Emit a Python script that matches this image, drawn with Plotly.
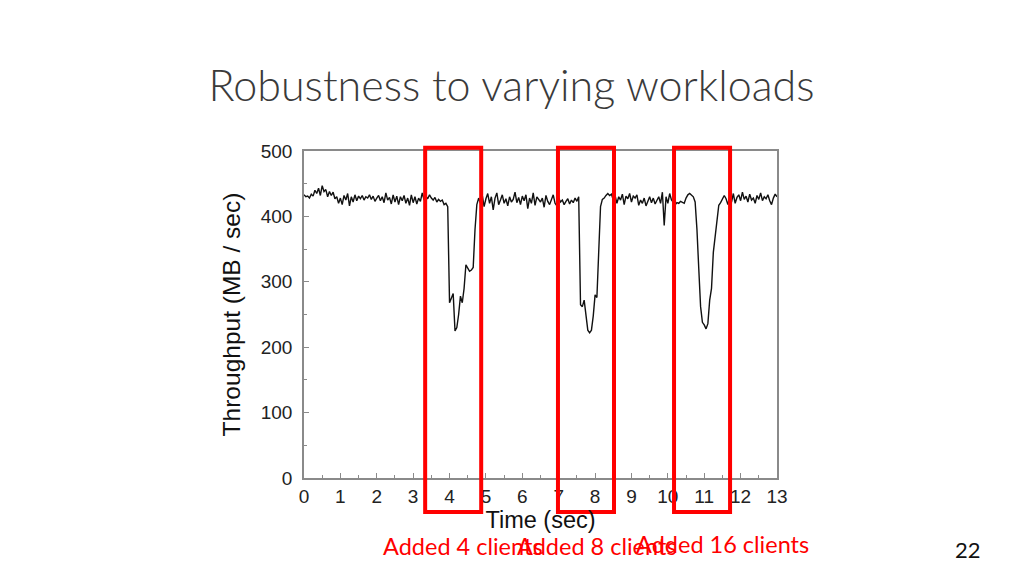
import plotly.graph_objects as go

# ---- data ----
step_sec = 0.05
throughput = [
    # 0.00 - 3.90
    433, 430, 431, 428, 434, 431, 440, 435, 443, 432,
    447, 438, 441, 430, 438, 432, 437, 427, 430, 420,
    428, 418, 432, 425, 435, 416, 430, 422, 433, 424,
    431, 427, 432, 425, 430, 428, 433, 426, 431, 423,
    428, 432, 424, 430, 421, 436, 425, 429, 419, 433,
    422, 431, 418, 430, 424, 432, 420, 428, 417, 433,
    421, 430, 419, 428, 423, 436, 425, 431, 427, 433,
    428, 425, 429, 422, 426, 423, 425, 418, 420,
    # 3.95 - 4.80 (dip 1)
    415, 268, 276, 282, 225, 230, 250, 278, 268, 290,
    326, 320, 316, 318, 322, 380, 418, 428,
    # 4.85 - 7.55
    420, 432, 415, 427, 435, 420, 430, 410, 428, 436,
    418, 425, 433, 420, 427, 416, 430, 422, 426, 437,
    421, 429, 418, 431, 424, 433, 412, 428, 420, 436,
    417, 430, 425, 422, 428, 414, 432, 423, 418, 427,
    433, 420, 416, 428, 422, 425, 418, 423, 427, 419,
    425, 421, 428, 423, 430,
    # 7.60 - 8.50 (dip 2)
    265, 262, 272, 250, 226, 222, 226, 248, 280, 276,
    350, 415, 426, 428, 432, 435, 432, 434, 425,
    # 8.55 - 10.50
    432, 420, 430, 425, 434, 418, 431, 427, 435, 422,
    431, 428, 433, 417, 425, 420, 428, 416, 424, 430,
    421, 428, 419, 426, 430, 420, 437, 386, 430, 420,
    435, 425, 422, 418, 421, 420, 423, 422, 420, 428,
    # 10.55 - 10.75
    433, 435, 432, 430, 422,
    # 10.80 - 11.60 (dip 3)
    380, 320, 262, 238, 234, 228, 236, 272, 290, 345,
    372, 395, 417, 421, 427, 432, 427,
    # 11.65 - 13.00
    418, 430, 422, 435, 420, 429, 433, 424, 437, 426,
    431, 422, 434, 425, 428, 420, 432, 426, 436, 424,
    430, 427, 433, 424, 418, 428, 434, 430,
]
time_sec = [round(i * step_sec, 2) for i in range(len(throughput))]

x_ticks = list(range(0, 14))
y_ticks = [0, 100, 200, 300, 400, 500]

# highlighted windows (time from/to, throughput from/to)
box_t0 = [3.33, 6.98, 10.17]
box_t1 = [4.87, 8.52, 11.71]
box_v0 = -52
box_v1 = 505
box_labels = ["Added 4 clients", "Added 8 clients", "Added 16 clients"]
label_left_t = [2.12, 5.80, 9.07]
label_v = [-104, -104, -101]

title_text = "Robustness to varying workloads"
page_number = "22"

X_MAX, Y_MAX = 13, 500
OFF = 8  # page body margin in the browser

fig = go.Figure()
fig.add_trace(go.Scatter(
    x=time_sec, y=throughput, mode="lines",
    line=dict(color="#111111", width=1.4),
    showlegend=False, hoverinfo="skip",
))

axis_font = dict(family="Liberation Sans, Arial, sans-serif", size=19, color="#222222")

fig.update_xaxes(
    range=[0, X_MAX], tickvals=x_ticks, ticktext=[str(v) for v in x_ticks],
    showgrid=False, zeroline=False,
    showline=True, linecolor="#8a8a8a", linewidth=1.5, mirror=True,
    ticks="inside", ticklen=5, tickcolor="#8a8a8a", tickwidth=1,
    minor=dict(dtick=0.5, ticks="inside", ticklen=3, tickcolor="#8a8a8a"),
    tickfont=axis_font,
    title=dict(text="Time (sec)", font=dict(family="Liberation Sans, Arial, sans-serif", size=23.5, color="#111111"), standoff=1),
)
fig.update_yaxes(
    range=[0, Y_MAX], tickvals=y_ticks, ticktext=[str(v) for v in y_ticks],
    showgrid=False, zeroline=False,
    showline=True, linecolor="#8a8a8a", linewidth=1.5, mirror=True,
    ticks="inside", ticklen=5, tickcolor="#8a8a8a", tickwidth=1,
    minor=dict(dtick=50, ticks="inside", ticklen=3, tickcolor="#8a8a8a"),
    tickfont=axis_font, ticklabelstandoff=6,
    title=dict(text="Throughput (MB / sec)", font=dict(family="Liberation Sans, Arial, sans-serif", size=24.5, color="#111111"), standoff=13),
)

shapes = []
for t0, t1 in zip(box_t0, box_t1):
    shapes.append(dict(
        type="rect", xref="paper", yref="paper",
        x0=t0 / X_MAX, x1=t1 / X_MAX, y0=box_v0 / Y_MAX, y1=box_v1 / Y_MAX,
        line=dict(color="#ff0000", width=4), fillcolor="rgba(0,0,0,0)", layer="above",
    ))

annotations = []
for txt, lt, lv in zip(box_labels, label_left_t, label_v):
    annotations.append(dict(
        text=txt, xref="paper", yref="paper", x=lt / X_MAX, y=lv / Y_MAX,
        xanchor="left", yanchor="middle", showarrow=False,
        font=dict(family="Lato, Calibri, sans-serif", size=23.5, color="#ff0000"),
    ))
annotations.append(dict(
    text=page_number, xref="paper", yref="paper", x=(968 - 304) / 473, y=(478 - 549) / 327,
    xanchor="center", yanchor="middle", showarrow=False,
    font=dict(family="Lato, Calibri, sans-serif", size=22, color="#111111"),
))

fig.update_layout(
    width=1024, height=576,
    margin=dict(l=304 - OFF, r=255, t=151 - OFF, b=106),
    paper_bgcolor="white", plot_bgcolor="white",
    title=dict(text=title_text, xref="container", yref="container",
               x=(511.5 - OFF) / 1024, y=1 - (86 - OFF) / 576,
               xanchor="center", yanchor="middle",
               font=dict(family="Lato, Calibri, sans-serif", size=43, color="#3a3a3a", weight=300)),
    shapes=shapes, annotations=annotations,
)

fig.write_html("out.html")
